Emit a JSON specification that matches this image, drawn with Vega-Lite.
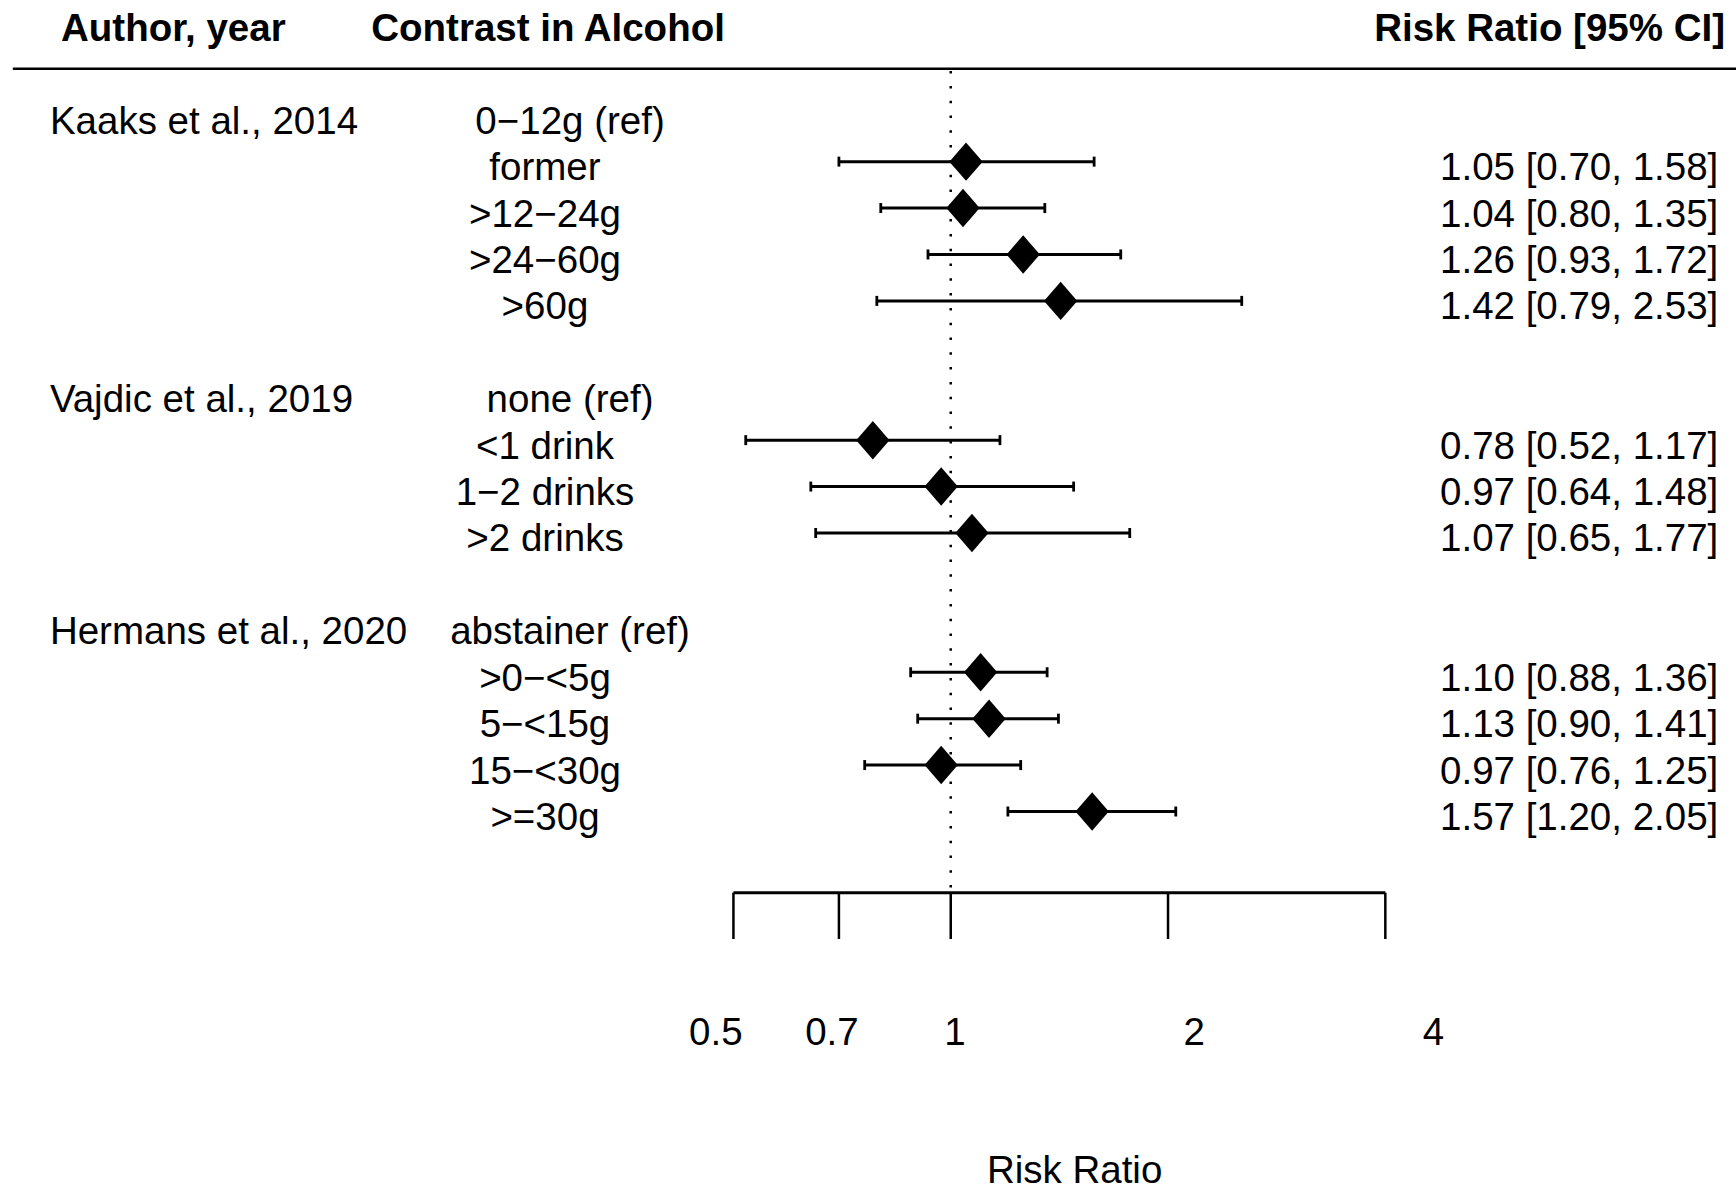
{
  "$schema": "https://vega.github.io/schema/vega-lite/v6.json",
  "width": 1736,
  "height": 1190,
  "autosize": {"type": "none"},
  "padding": 0,
  "background": "white",
  "config": {
    "view": {"stroke": null},
    "text": {"font": "Liberation Sans", "fontSize": 38.5, "baseline": "alphabetic", "dy": 18.5, "color": "black"}
  },
  "datasets": {
    "studies": [
      {"row": 16, "study": "Kaaks et al., 2014", "contrast": "0−12g (ref)", "ref": true, "rr": null, "lo": null, "hi": null, "ci": ""},
      {"row": 15, "study": "", "contrast": "former", "ref": false, "rr": 1.05, "lo": 0.70, "hi": 1.58, "ci": "1.05 [0.70, 1.58]"},
      {"row": 14, "study": "", "contrast": ">12−24g", "ref": false, "rr": 1.04, "lo": 0.80, "hi": 1.35, "ci": "1.04 [0.80, 1.35]"},
      {"row": 13, "study": "", "contrast": ">24−60g", "ref": false, "rr": 1.26, "lo": 0.93, "hi": 1.72, "ci": "1.26 [0.93, 1.72]"},
      {"row": 12, "study": "", "contrast": ">60g", "ref": false, "rr": 1.42, "lo": 0.79, "hi": 2.53, "ci": "1.42 [0.79, 2.53]"},
      {"row": 10, "study": "Vajdic et al., 2019", "contrast": "none (ref)", "ref": true, "rr": null, "lo": null, "hi": null, "ci": ""},
      {"row": 9, "study": "", "contrast": "<1 drink", "ref": false, "rr": 0.78, "lo": 0.52, "hi": 1.17, "ci": "0.78 [0.52, 1.17]"},
      {"row": 8, "study": "", "contrast": "1−2 drinks", "ref": false, "rr": 0.97, "lo": 0.64, "hi": 1.48, "ci": "0.97 [0.64, 1.48]"},
      {"row": 7, "study": "", "contrast": ">2 drinks", "ref": false, "rr": 1.07, "lo": 0.65, "hi": 1.77, "ci": "1.07 [0.65, 1.77]"},
      {"row": 5, "study": "Hermans et al., 2020", "contrast": "abstainer (ref)", "ref": true, "rr": null, "lo": null, "hi": null, "ci": ""},
      {"row": 4, "study": "", "contrast": ">0−<5g", "ref": false, "rr": 1.10, "lo": 0.88, "hi": 1.36, "ci": "1.10 [0.88, 1.36]"},
      {"row": 3, "study": "", "contrast": "5−<15g", "ref": false, "rr": 1.13, "lo": 0.90, "hi": 1.41, "ci": "1.13 [0.90, 1.41]"},
      {"row": 2, "study": "", "contrast": "15−<30g", "ref": false, "rr": 0.97, "lo": 0.76, "hi": 1.25, "ci": "0.97 [0.76, 1.25]"},
      {"row": 1, "study": "", "contrast": ">=30g", "ref": false, "rr": 1.57, "lo": 1.20, "hi": 2.05, "ci": "1.57 [1.20, 2.05]"}
    ],
    "ticks": [
      {"tick": 0.5, "label": "0.5"},
      {"tick": 0.7, "label": "0.7"},
      {"tick": 1, "label": "1"},
      {"tick": 2, "label": "2"},
      {"tick": 4, "label": "4"}
    ]
  },
  "resolve": {"scale": {"x": "independent"}},
  "layer": [
    {
      "layer": [
        {
          "data": {"values": [{}]},
          "mark": {"type": "rule", "strokeWidth": 2.5, "color": "black"},
          "encoding": {
            "x": {"datum": 0.0502, "type": "quantitative", "scale": {"type": "log", "domain": [0.048188, 12.242], "nice": false}, "axis": null},
            "x2": {"datum": 12.242},
            "y": {"datum": 17, "type": "quantitative", "scale": {"domain": [-7.154, 18.482], "nice": false, "zero": false}, "axis": null}
          }
        },
        {
          "data": {"values": [{}]},
          "mark": {"type": "rule", "strokeWidth": 2.5, "color": "black", "strokeDash": [2.5, 12.3]},
          "encoding": {
            "x": {"datum": 1, "type": "quantitative", "scale": {"type": "log", "domain": [0.048188, 12.242], "nice": false}, "axis": null},
            "y": {"datum": 16.95, "type": "quantitative", "scale": {"domain": [-7.154, 18.482], "nice": false, "zero": false}, "axis": null},
            "y2": {"datum": -0.749}
          }
        },
        {
          "data": {"values": [{}]},
          "mark": {"type": "rule", "strokeWidth": 3, "color": "black"},
          "encoding": {
            "x": {"datum": 0.5, "type": "quantitative", "scale": {"type": "log", "domain": [0.048188, 12.242], "nice": false}, "axis": null},
            "x2": {"datum": 4},
            "y": {"datum": -0.749, "type": "quantitative", "scale": {"domain": [-7.154, 18.482], "nice": false, "zero": false}, "axis": null}
          }
        },
        {
          "data": {"name": "ticks"},
          "mark": {"type": "rule", "strokeWidth": 2.5, "color": "black"},
          "encoding": {
            "x": {"field": "tick", "type": "quantitative", "scale": {"type": "log", "domain": [0.048188, 12.242], "nice": false}, "axis": null},
            "y": {"datum": -0.749, "type": "quantitative", "scale": {"domain": [-7.154, 18.482], "nice": false, "zero": false}, "axis": null},
            "y2": {"datum": -1.747}
          }
        },
        {
          "data": {"name": "studies"},
          "transform": [{"filter": "datum.rr != null"}],
          "mark": {"type": "rule", "strokeWidth": 3, "color": "black"},
          "encoding": {
            "x": {"field": "lo", "type": "quantitative", "scale": {"type": "log", "domain": [0.048188, 12.242], "nice": false}, "axis": null},
            "x2": {"field": "hi"},
            "y": {"field": "row", "type": "quantitative", "scale": {"domain": [-7.154, 18.482], "nice": false, "zero": false}, "axis": null}
          }
        },
        {
          "data": {"name": "studies"},
          "transform": [{"filter": "datum.rr != null"}],
          "mark": {"type": "tick", "orient": "vertical", "size": 10, "thickness": 2.8, "color": "black", "opacity": 1},
          "encoding": {
            "x": {"field": "lo", "type": "quantitative", "scale": {"type": "log", "domain": [0.048188, 12.242], "nice": false}, "axis": null},
            "y": {"field": "row", "type": "quantitative", "scale": {"domain": [-7.154, 18.482], "nice": false, "zero": false}, "axis": null}
          }
        },
        {
          "data": {"name": "studies"},
          "transform": [{"filter": "datum.rr != null"}],
          "mark": {"type": "tick", "orient": "vertical", "size": 10, "thickness": 2.8, "color": "black", "opacity": 1},
          "encoding": {
            "x": {"field": "hi", "type": "quantitative", "scale": {"type": "log", "domain": [0.048188, 12.242], "nice": false}, "axis": null},
            "y": {"field": "row", "type": "quantitative", "scale": {"domain": [-7.154, 18.482], "nice": false, "zero": false}, "axis": null}
          }
        },
        {
          "data": {"name": "studies"},
          "transform": [{"filter": "datum.rr != null"}],
          "mark": {"type": "point", "shape": "M0,-1L0.866,0L0,1L-0.866,0Z", "size": 1480, "filled": true, "color": "black", "opacity": 1, "strokeWidth": 0},
          "encoding": {
            "x": {"field": "rr", "type": "quantitative", "scale": {"type": "log", "domain": [0.048188, 12.242], "nice": false}, "axis": null},
            "y": {"field": "row", "type": "quantitative", "scale": {"domain": [-7.154, 18.482], "nice": false, "zero": false}, "axis": null}
          }
        },
        {
          "data": {"name": "studies"},
          "transform": [{"filter": "datum.study != ''"}],
          "mark": {"type": "text", "align": "left"},
          "encoding": {
            "x": {"datum": 0.0565, "type": "quantitative", "scale": {"type": "log", "domain": [0.048188, 12.242], "nice": false}, "axis": null},
            "y": {"field": "row", "type": "quantitative", "scale": {"domain": [-7.154, 18.482], "nice": false, "zero": false}, "axis": null},
            "text": {"field": "study"}
          }
        },
        {
          "data": {"name": "studies"},
          "transform": [{"filter": "!datum.ref"}],
          "mark": {"type": "text", "align": "center"},
          "encoding": {
            "x": {"datum": 0.2741, "type": "quantitative", "scale": {"type": "log", "domain": [0.048188, 12.242], "nice": false}, "axis": null},
            "y": {"field": "row", "type": "quantitative", "scale": {"domain": [-7.154, 18.482], "nice": false, "zero": false}, "axis": null},
            "text": {"field": "contrast"}
          }
        },
        {
          "data": {"name": "studies"},
          "transform": [{"filter": "datum.ref"}],
          "mark": {"type": "text", "align": "center"},
          "encoding": {
            "x": {"datum": 0.2969, "type": "quantitative", "scale": {"type": "log", "domain": [0.048188, 12.242], "nice": false}, "axis": null},
            "y": {"field": "row", "type": "quantitative", "scale": {"domain": [-7.154, 18.482], "nice": false, "zero": false}, "axis": null},
            "text": {"field": "contrast"}
          }
        },
        {
          "data": {"name": "studies"},
          "transform": [{"filter": "datum.rr != null"}],
          "mark": {"type": "text", "align": "right"},
          "encoding": {
            "x": {"datum": 11.57, "type": "quantitative", "scale": {"type": "log", "domain": [0.048188, 12.242], "nice": false}, "axis": null},
            "y": {"field": "row", "type": "quantitative", "scale": {"domain": [-7.154, 18.482], "nice": false, "zero": false}, "axis": null},
            "text": {"field": "ci"}
          }
        },
        {
          "data": {"values": [{"h": "Author, year"}]},
          "mark": {"type": "text", "align": "left", "fontWeight": "bold"},
          "encoding": {
            "x": {"datum": 0.05854, "type": "quantitative", "scale": {"type": "log", "domain": [0.048188, 12.242], "nice": false}, "axis": null},
            "y": {"datum": 18, "type": "quantitative", "scale": {"domain": [-7.154, 18.482], "nice": false, "zero": false}, "axis": null},
            "text": {"field": "h"}
          }
        },
        {
          "data": {"values": [{"h": "Contrast in Alcohol"}]},
          "mark": {"type": "text", "align": "center", "fontWeight": "bold"},
          "encoding": {
            "x": {"datum": 0.2768, "type": "quantitative", "scale": {"type": "log", "domain": [0.048188, 12.242], "nice": false}, "axis": null},
            "y": {"datum": 18, "type": "quantitative", "scale": {"domain": [-7.154, 18.482], "nice": false, "zero": false}, "axis": null},
            "text": {"field": "h"}
          }
        },
        {
          "data": {"values": [{"h": "Risk Ratio [95% CI]"}]},
          "mark": {"type": "text", "align": "right", "fontWeight": "bold"},
          "encoding": {
            "x": {"datum": 11.82, "type": "quantitative", "scale": {"type": "log", "domain": [0.048188, 12.242], "nice": false}, "axis": null},
            "y": {"datum": 18, "type": "quantitative", "scale": {"domain": [-7.154, 18.482], "nice": false, "zero": false}, "axis": null},
            "text": {"field": "h"}
          }
        }
      ]
    },
    {
      "layer": [
        {
          "data": {"name": "ticks"},
          "mark": {"type": "text", "align": "center"},
          "encoding": {
            "x": {"field": "tick", "type": "quantitative", "scale": {"type": "log", "domain": [0.062827, 9.6136], "nice": false}, "axis": null},
            "y": {"datum": -3.64, "type": "quantitative", "scale": {"domain": [-7.154, 18.482], "nice": false, "zero": false}, "axis": null},
            "text": {"field": "label"}
          }
        },
        {
          "data": {"values": [{"t": "Risk Ratio"}]},
          "mark": {"type": "text", "align": "center"},
          "encoding": {
            "x": {"datum": 1.41421, "type": "quantitative", "scale": {"type": "log", "domain": [0.062827, 9.6136], "nice": false}, "axis": null},
            "y": {"datum": -6.6, "type": "quantitative", "scale": {"domain": [-7.154, 18.482], "nice": false, "zero": false}, "axis": null},
            "text": {"field": "t"}
          }
        }
      ]
    }
  ]
}
